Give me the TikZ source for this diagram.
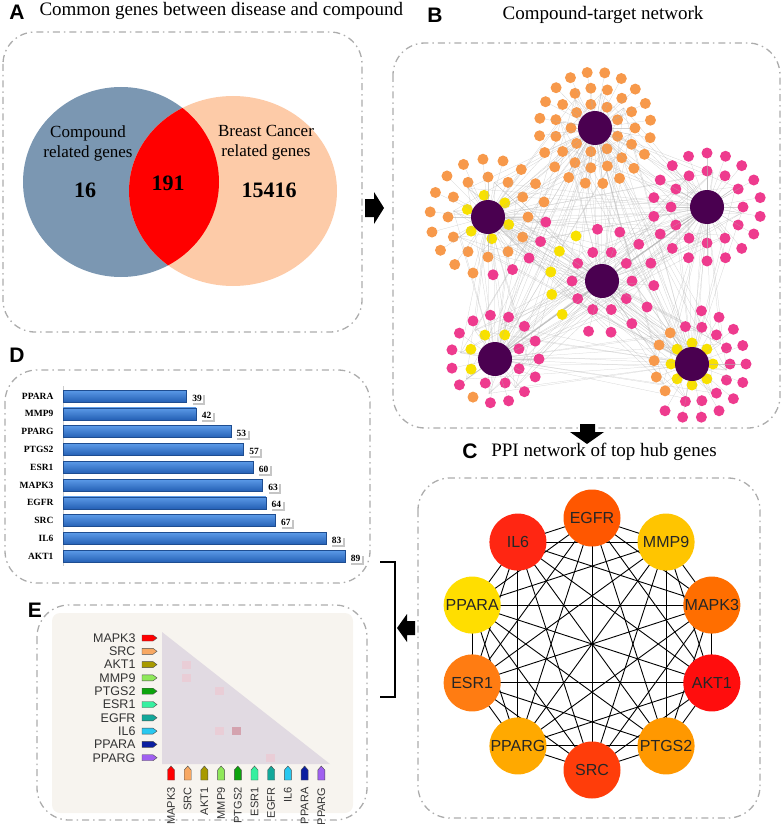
\documentclass[tikz,border=0pt]{standalone}
\usepackage{fontspec}
\setmainfont{Liberation Serif}
\setsansfont{Liberation Sans}
\usetikzlibrary{backgrounds,shadows}

\definecolor{vennblue}{HTML}{7B97B2}
\definecolor{vennpeach}{HTML}{FDCBA8}
\definecolor{hubpurple}{HTML}{4A0050}
\definecolor{dotorange}{HTML}{F7994B}
\definecolor{dotpink}{HTML}{EE3B8E}
\definecolor{dotyellow}{HTML}{F8E100}
\definecolor{barlight}{HTML}{5C9BE8}
\definecolor{bardark}{HTML}{2560B5}
\definecolor{heatbg}{HTML}{F7F4EF}
\definecolor{heattri}{HTML}{E1DAE2}
\definecolor{celllight}{HTML}{E9CDD6}
\definecolor{celldark}{HTML}{D4A3AF}
% PPI node colours
\definecolor{cEGFR}{HTML}{FF5700}
\definecolor{cMMP9}{HTML}{FFC500}
\definecolor{cMAPK3}{HTML}{FF6E00}
\definecolor{cAKT1}{HTML}{FF0D0D}
\definecolor{cPTGS2}{HTML}{FF9800}
\definecolor{cSRC}{HTML}{FF3D0A}
\definecolor{cPPARG}{HTML}{FFA900}
\definecolor{cESR1}{HTML}{FF7C12}
\definecolor{cPPARA}{HTML}{FFDE00}
\definecolor{cIL6}{HTML}{FF2612}
% heat map tag colours
\definecolor{tMAPK3}{HTML}{FF0000}
\definecolor{tSRC}{HTML}{F8A862}
\definecolor{tAKT1}{HTML}{A89A00}
\definecolor{tMMP9}{HTML}{8FE85A}
\definecolor{tPTGS2}{HTML}{0DA40D}
\definecolor{tESR1}{HTML}{36F0A0}
\definecolor{tEGFR}{HTML}{13A89A}
\definecolor{tIL6}{HTML}{28C8F0}
\definecolor{tPPARA}{HTML}{0A1EA0}
\definecolor{tPPARG}{HTML}{A060F0}

\tikzset{
  panelbox/.style={draw=gray!65, line width=1.3pt, rounded corners=32pt,
    dash pattern=on 7pt off 4pt on 1.5pt off 4pt},
  paneltag/.style={font=\sffamily\bfseries\fontsize{21}{21}\selectfont},
  paneltitle/.style={font=\fontsize{19}{19}\selectfont, anchor=base},
  venntext/.style={font=\fontsize{17}{20}\selectfont, align=center},
  vennnum/.style={font=\bfseries\fontsize{22}{22}\selectfont},
  blockarrow/.style={fill=black},
  edge/.style={draw=gray!60, line width=0.25pt, opacity=0.6},
  hub/.style={circle, fill=hubpurple, minimum size=34pt, inner sep=0pt},
  ppi/.style={circle, minimum size=57pt, inner sep=0pt, text=black!85,
    font=\sffamily\fontsize{16}{16}\selectfont},
  ppiedge/.style={draw=black, line width=0.9pt},
  barlab/.style={font=\bfseries\fontsize{9.5}{10}\selectfont, anchor=east},
  vallab/.style={font=\bfseries\fontsize{9.5}{10}\selectfont, anchor=west,
    fill=white, inner sep=1.5pt,
    drop shadow={shadow xshift=2pt, shadow yshift=-2pt, fill=black!45}},
  bar/.style={top color=barlight, bottom color=bardark, draw=bardark!80!black, line width=0.5pt},
  heatlab/.style={font=\sffamily\fontsize{12.5}{13}\selectfont, text=black!80},
  heatsmall/.style={font=\sffamily\fontsize{11}{11}\selectfont, text=black!80},
  tagline/.style={draw=black!70, line width=0.4pt},
}

\begin{document}
\begin{tikzpicture}[x=1pt,y=-1pt]
\useasboundingbox (0,0) rectangle (782,824);

% --- Panel boxes ---
\draw[panelbox] (3,32) rectangle (362,332);
\draw[panelbox] (393,43) rectangle (780,428);
\draw[panelbox] (418,478) rectangle (760,818);
\draw[panelbox] (5,370) rectangle (370,583);
\draw[panelbox] (37,605) rectangle (367,820);

% --- Panel titles ---
\node[paneltag] (tagA) at (17,12) {A};
\node[paneltitle, anchor=base west] (titleA) at (36,16) {Common genes between disease and compound};
\node[paneltag] (tagB) at (435,15) {B};
\node[paneltitle] (titleB) at (603,20) {Compound-target network};
\node[paneltag] (tagC) at (470,451) {C};
\node[paneltitle] (titleC) at (604,456) {PPI network of top hub genes};
\node[paneltag] (tagD) at (17,355) {D};
\node[paneltag] (tagE) at (35,610) {E};

% --- A: Venn diagram ---
\fill[vennblue] (121,182) ellipse [x radius=98, y radius=95];
\fill[vennpeach] (233,191) ellipse [x radius=104, y radius=95];
\begin{scope}
  \clip (121,182) ellipse [x radius=98, y radius=95];
  \fill[red] (233,191) ellipse [x radius=104, y radius=95];
\end{scope}
\node[venntext] (cmpd) at (88,143) {Compound\\related genes};
\node[venntext] (bcancer) at (266,143) {Breast Cancer\\related genes};
\node[vennnum] (n16) at (85,190) {16};
\node[vennnum] (n191) at (168,183) {191};
\node[vennnum] (n15416) at (269,190) {15416};

% --- Block arrows and bracket ---
\fill[blockarrow] (365,199) -- (374,199) -- (374,192) -- (384,208) -- (374,224) -- (374,217) -- (365,217) -- cycle;
\fill[blockarrow] (580,424) -- (595,424) -- (595,432) -- (604,432) -- (587,444) -- (570,432) -- (580,432) -- cycle;
\fill[blockarrow] (397,628) -- (407,614) -- (407,621) -- (415,621) -- (415,635) -- (407,635) -- (407,642) -- cycle;
\draw[line width=2.5pt] (380,562) -- (395,562) -- (395,697) -- (380,697);

% --- B: compound-target network ---
\coordinate (hT) at (595,128);
\coordinate (hL) at (488,217);
\coordinate (hR) at (707,207);
\coordinate (hC) at (602,281);
\coordinate (hBL) at (495,359);
\coordinate (hBR) at (692,364);
\foreach \a in {hT,hL,hR,hC,hBL,hBR}
  \foreach \b in {hT,hL,hR,hC,hBL,hBR}
    \foreach \k in {0,45,...,315}
      \draw[edge] (\a) -- ([shift={(\k+10:35)}]\b);
% top cluster
\foreach \rad/\step/\off in {24/40/20, 40/24/0, 56/18/10}
  \foreach \k in {0,\step,...,359}{
    \draw[edge] (hT) -- ([shift={(\k+\off:\rad)}]hT);
    \fill[dotorange] ([shift={(\k+\off:\rad)}]hT) circle (5.5);
  }
% left cluster
\foreach \k in {20,80,...,320}
  \fill[dotyellow] ([shift={(\k:22)}]hL) circle (5.5);
\foreach \k in {0,30,...,330}{
  \draw[edge] (hL) -- ([shift={(\k:40)}]hL);
  \fill[dotorange] ([shift={(\k:40)}]hL) circle (5.5);
}
\foreach \k in {105,125,...,345}{
  \draw[edge] (hL) -- ([shift={(\k:58)}]hL);
  \fill[dotorange] ([shift={(\k:58)}]hL) circle (5.5);
}
\foreach \k in {5,25,...,85}{
  \draw[edge] (hL) -- ([shift={(\k:58)}]hL);
  \fill[dotpink] ([shift={(\k:58)}]hL) circle (5.5);
}
% right cluster
\foreach \rad/\step/\off in {36/30/0, 54/20/10}
  \foreach \k in {0,\step,...,359}{
    \draw[edge] (hR) -- ([shift={(\k+\off:\rad)}]hR);
    \fill[dotpink] ([shift={(\k+\off:\rad)}]hR) circle (5.5);
  }
% centre cluster
\foreach \k in {0,36,...,324}
  \fill[dotpink] ([shift={(\k:30)}]hC) circle (5.5);
\foreach \k in {140,165,...,240}{
  \draw[edge] (hC) -- ([shift={(\k:52)}]hC);
  \fill[dotyellow] ([shift={(\k:52)}]hC) circle (5.5);
}
\foreach \k in {265,290,...,465}{
  \draw[edge] (hC) -- ([shift={(\k:52)}]hC);
  \fill[dotpink] ([shift={(\k:52)}]hC) circle (5.5);
}
% bottom-left cluster
\foreach \k in {157,202,247,292}
  \fill[dotyellow] ([shift={(\k:26)}]hBL) circle (5.5);
\foreach \k in {337,382,427,472}
  \fill[dotpink] ([shift={(\k:26)}]hBL) circle (5.5);
\foreach \k in {0,24,48,72,96,144,168,...,336}{
  \draw[edge] (hBL) -- ([shift={(\k:44)}]hBL);
  \fill[dotpink] ([shift={(\k:44)}]hBL) circle (5.5);
}
\fill[dotorange] ([shift={(120:44)}]hBL) circle (5.5);
% bottom-right cluster
\foreach \k in {0,45,...,315}
  \fill[dotyellow] ([shift={(\k:21)}]hBR) circle (5.5);
\foreach \k in {135,160,...,235}{
  \draw[edge] (hBR) -- ([shift={(\k:38)}]hBR);
  \fill[dotorange] ([shift={(\k:38)}]hBR) circle (5.5);
}
\foreach \k in {260,285,...,460}
  \fill[dotpink] ([shift={(\k:38)}]hBR) circle (5.5);
\foreach \k in {280,300,...,480}{
  \draw[edge] (hBR) -- ([shift={(\k:54)}]hBR);
  \fill[dotpink] ([shift={(\k:54)}]hBR) circle (5.5);
}
% hubs
\foreach \h in {T,L,R,C,BL,BR}
  \node[hub] (hub\h) at (h\h) {};

% --- C: PPI network of top hub genes ---
\coordinate (ppic) at (592,644);
\foreach \g/\ang in {EGFR/270, MMP9/306, MAPK3/342, AKT1/18, PTGS2/54,
                     SRC/90, PPARG/126, ESR1/162, PPARA/198, IL6/234}
  \node[ppi, fill=c\g] (\g) at ([shift={(\ang:126)}]ppic) {\g};
\begin{scope}[on background layer]
  \foreach \a [count=\i] in {EGFR,MMP9,MAPK3,AKT1,PTGS2,SRC,PPARG,ESR1,PPARA,IL6}{
    \foreach \b [count=\j] in {EGFR,MMP9,MAPK3,AKT1,PTGS2,SRC,PPARG,ESR1,PPARA,IL6}{
      \ifnum\j>\i \draw[ppiedge] (\a.center) -- (\b.center); \fi
    }
  }
\end{scope}

% --- D: degree bar chart ---
\draw[black!20] (63,386) -- (63,566);
\foreach \g/\v [count=\i from 0] in {PPARA/39, MMP9/42, PPARG/53, PTGS2/57, ESR1/60,
                                    MAPK3/63, EGFR/64, SRC/67, IL6/83, AKT1/89}{
  \pgfmathsetmacro\yy{396+17.8*\i}
  \pgfmathsetmacro\xx{63+3.17*\v}
  \node[barlab] (lab\g) at (57,\yy) {\g};
  \shade[bar] (63,\yy-6) rectangle (\xx,\yy+6);
  \node[vallab] (val\g) at (\xx+4,\yy+2) {\v};
}

% --- E: heat map ---
\fill[heatbg, rounded corners=8pt] (52,613) rectangle (353,813);
\fill[heattri] (162,632) -- (162,764) -- (330,764) -- cycle;
\fill[celllight] (182,661) rectangle (191,669);
\fill[celllight] (182,674) rectangle (191,682);
\fill[celllight] (215,687) rectangle (224,695);
\fill[celllight] (215,727) rectangle (224,735);
\fill[celldark] (232,727) rectangle (241,735);
\fill[celllight] (266,754) rectangle (275,762);
\foreach \g [count=\i from 0] in {MAPK3,SRC,AKT1,MMP9,PTGS2,ESR1,EGFR,IL6,PPARA,PPARG}{
  \pgfmathsetmacro\yy{638+13.3*\i}
  \pgfmathsetmacro\xx{171+16.7*\i}
  \node[heatlab, anchor=east] (row\g) at (139,\yy) {\g};
  \filldraw[tagline, fill=t\g] (142,\yy-3) -- (153,\yy-3) -- (157,\yy) -- (153,\yy+3) -- (142,\yy+3) -- cycle;
  \filldraw[tagline, fill=t\g] (\xx-3.5,780) -- (\xx-3.5,770) -- (\xx,766) -- (\xx+3.5,770) -- (\xx+3.5,780) -- cycle;
  \node[heatsmall, rotate=90, anchor=east] (col\g) at (\xx,784) {\g};
}

\end{tikzpicture}
\end{document}
